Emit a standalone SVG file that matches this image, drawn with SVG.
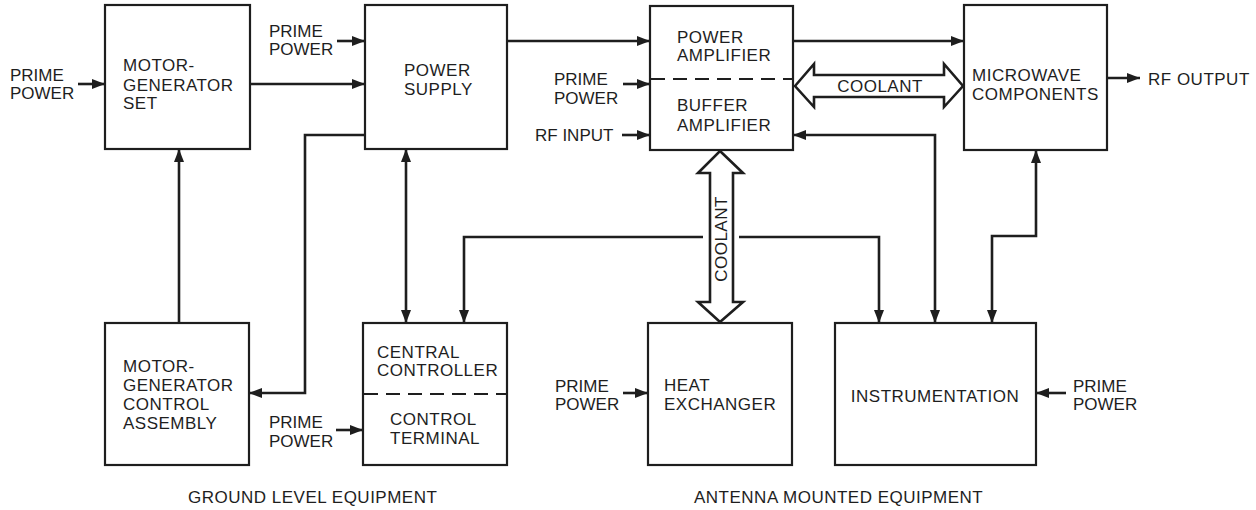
<svg xmlns="http://www.w3.org/2000/svg" width="1256" height="510" viewBox="0 0 1256 510">
<style>
text{font-family:"Liberation Sans",Arial,sans-serif;font-size:17px;letter-spacing:0.5px;fill:#1e1e1e}
.box{fill:#fff;stroke:#1e1e1e;stroke-width:2.2}
.dash{stroke:#1e1e1e;stroke-width:2;stroke-dasharray:14 8;fill:none}
.ln{fill:none;stroke:#1e1e1e;stroke-width:2.6}
.cool{fill:#fff;stroke:#1e1e1e;stroke-width:2.6;stroke-linejoin:miter}
.pp{letter-spacing:0px}
</style>
<defs>
<marker id="ah" viewBox="0 0 13 10" refX="13" refY="5" markerWidth="13" markerHeight="10" markerUnits="userSpaceOnUse" orient="auto-start-reverse">
<path d="M0,0 L13,5 L0,10 z" fill="#1e1e1e"/>
</marker>
</defs>
<rect width="1256" height="510" fill="#fff"/>

<g id="connectors">
<path class="ln" d="M78 84 H105" marker-end="url(#ah)"/>
<path class="ln" d="M250 84 H365" marker-end="url(#ah)"/>
<path class="ln" d="M337 41 H365" marker-end="url(#ah)"/>
<path class="ln" d="M179 323 V149" marker-end="url(#ah)"/>
<path class="ln" d="M365 135 H305 V393 H249" marker-end="url(#ah)"/>
<path class="ln" d="M406 149 V323" marker-start="url(#ah)" marker-end="url(#ah)"/>
<path class="ln" d="M507 41 H650" marker-end="url(#ah)"/>
<path class="ln" d="M623 84 H650" marker-end="url(#ah)"/>
<path class="ln" d="M622 135 H650" marker-end="url(#ah)"/>
<path class="ln" d="M793 41 H964" marker-end="url(#ah)"/>
<path class="ln" d="M1107 78 H1140" marker-end="url(#ah)"/>
<path class="ln" d="M935 323 V135 H793" marker-start="url(#ah)" marker-end="url(#ah)"/>
<path class="ln" d="M1036 150 V236 H992 V323" marker-start="url(#ah)" marker-end="url(#ah)"/>
<path class="ln" d="M464 323 V237 H703" marker-start="url(#ah)"/>
<path class="ln" d="M739 237 H879 V323" marker-end="url(#ah)"/>
<path class="ln" d="M336 430 H363" marker-end="url(#ah)"/>
<path class="ln" d="M623 393 H648" marker-end="url(#ah)"/>
<path class="ln" d="M1066 393 H1036" marker-end="url(#ah)"/>
<polygon class="cool" points="795,86 814,64 814,75 944,75 944,64 963,86 944,107 944,97 814,97 814,107"/>
<text x="880" y="92" text-anchor="middle">COOLANT</text>
<polygon class="cool" points="720,151 743,173 733,173 733,302 743,302 720,322 698,302 710,302 710,173 698,173"/>
<text transform="translate(727,239) rotate(-90)" text-anchor="middle">COOLANT</text>
</g>

<g id="mg-set">
<rect class="box" x="105" y="5" width="145" height="144"/>
<text x="123" y="71">MOTOR-</text>
<text x="123" y="91">GENERATOR</text>
<text x="123" y="109">SET</text>
</g>
<g id="prime-mg">
<text class="pp" x="10" y="81">PRIME</text>
<text class="pp" x="10" y="99">POWER</text>
</g>

<g id="power-supply">
<rect class="box" x="365" y="5" width="142" height="144"/>
<text x="404" y="76">POWER</text>
<text x="404" y="95">SUPPLY</text>
</g>
<g id="prime-ps">
<text class="pp" x="269" y="37">PRIME</text>
<text class="pp" x="269" y="55">POWER</text>
</g>

<g id="amplifier">
<rect class="box" x="650" y="6" width="143" height="144"/>
<line class="dash" x1="651" y1="79" x2="792" y2="79"/>
<text x="677" y="43">POWER</text>
<text x="677" y="61">AMPLIFIER</text>
<text x="677" y="111">BUFFER</text>
<text x="677" y="131">AMPLIFIER</text>
</g>
<g id="prime-amp">
<text class="pp" x="554" y="85">PRIME</text>
<text class="pp" x="554" y="104">POWER</text>
</g>
<g id="rf-input">
<text class="pp" x="535" y="141">RF INPUT</text>
</g>

<g id="microwave">
<rect class="box" x="964" y="5" width="143" height="145"/>
<text x="972" y="81">MICROWAVE</text>
<text x="972" y="100">COMPONENTS</text>
</g>
<g id="rf-output">
<text x="1148" y="85">RF OUTPUT</text>
</g>

<g id="mg-control">
<rect class="box" x="105" y="323" width="144" height="142"/>
<text x="123" y="372">MOTOR-</text>
<text x="123" y="391">GENERATOR</text>
<text x="123" y="410">CONTROL</text>
<text x="123" y="429">ASSEMBLY</text>
</g>

<g id="central-controller">
<rect class="box" x="363" y="323" width="144" height="142"/>
<line class="dash" x1="364" y1="394" x2="506" y2="394"/>
<text x="377" y="358">CENTRAL</text>
<text x="377" y="376">CONTROLLER</text>
<text x="390" y="425">CONTROL</text>
<text x="390" y="444">TERMINAL</text>
</g>
<g id="prime-cc">
<text class="pp" x="269" y="428">PRIME</text>
<text class="pp" x="269" y="447">POWER</text>
</g>

<g id="heat-exchanger">
<rect class="box" x="648" y="323" width="144" height="142"/>
<text x="664" y="391">HEAT</text>
<text x="664" y="410">EXCHANGER</text>
</g>
<g id="prime-hx">
<text class="pp" x="555" y="392">PRIME</text>
<text class="pp" x="555" y="410">POWER</text>
</g>

<g id="instrumentation">
<rect class="box" x="835" y="323" width="201" height="142"/>
<text x="935" y="402" text-anchor="middle">INSTRUMENTATION</text>
</g>
<g id="prime-inst">
<text class="pp" x="1073" y="392">PRIME</text>
<text class="pp" x="1073" y="410">POWER</text>
</g>

<g id="labels">
<text x="188" y="503">GROUND LEVEL EQUIPMENT</text>
<text x="694" y="503">ANTENNA MOUNTED EQUIPMENT</text>
</g>
</svg>
